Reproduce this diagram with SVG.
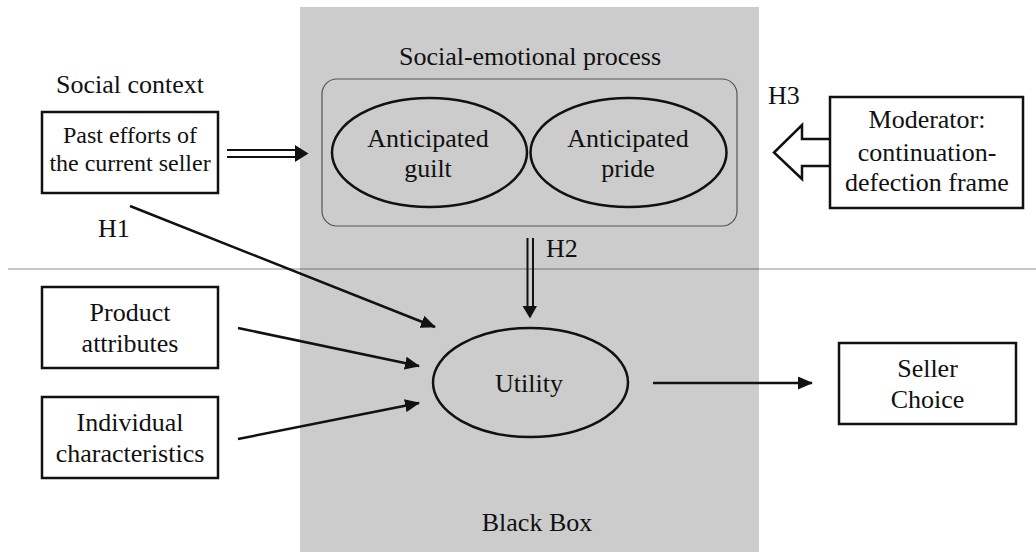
<svg xmlns="http://www.w3.org/2000/svg" width="1036" height="552" viewBox="0 0 1036 552">
<style>
text{font-family:"Liberation Serif","Times New Roman",serif;font-size:26px;fill:#111;}
.c{text-anchor:middle;}
.box{fill:#fff;stroke:#111;stroke-width:2.5;}
.ell{fill:none;stroke:#111;stroke-width:2.5;}
.ln{stroke:#111;stroke-width:2.5;fill:none;}
.dl{stroke:#111;stroke-width:2;fill:none;}
</style>
<defs>
<marker id="ah" markerUnits="userSpaceOnUse" markerWidth="15" markerHeight="13" refX="14" refY="6.5" orient="auto" viewBox="0 0 15 13">
<path d="M0,0 L15,6.5 L0,13 z" fill="#111"/>
</marker>
</defs>
<rect id="blackbox" x="300" y="7" width="459" height="545" fill="#cccccc"/>
<line x1="8" y1="269" x2="1036" y2="269" stroke="#000" stroke-opacity="0.22" stroke-width="2"/>
<text class="c" x="537" y="531">Black Box</text>
<g id="process">
<rect x="322" y="79" width="415" height="147" rx="15" fill="none" stroke="#555" stroke-width="1.2"/>
<text class="c" x="530" y="65">Social-emotional process</text>
</g>
<g id="guilt">
<ellipse class="ell" cx="429.5" cy="152.5" rx="97.5" ry="54.5"/>
<text class="c" x="428" y="147">Anticipated</text>
<text class="c" x="428" y="177">guilt</text>
</g>
<g id="pride">
<ellipse class="ell" cx="628.5" cy="152.5" rx="98" ry="54.5"/>
<text class="c" x="628" y="147">Anticipated</text>
<text class="c" x="628" y="177">pride</text>
</g>
<g id="past">
<text class="c" x="130" y="93">Social context</text>
<rect class="box" x="42" y="112" width="176" height="81"/>
<text class="c" x="130" y="143" style="font-size:24px">Past efforts of</text>
<text class="c" x="130" y="171" style="font-size:24px">the current seller</text>
</g>
<g id="moderator">
<path d="M830,139 L802,139 L802,125 L774,152.5 L802,179 L802,166 L830,166" fill="#fff" stroke="#111" stroke-width="2.5" stroke-linejoin="miter"/>
<rect class="box" x="830" y="97" width="193" height="111"/>
<text class="c" x="927" y="128">Moderator:</text>
<text class="c" x="927" y="161">continuation-</text>
<text class="c" x="927" y="191">defection frame</text>
</g>
<g id="product">
<rect class="box" x="42" y="287" width="176" height="81"/>
<text class="c" x="130" y="321">Product</text>
<text class="c" x="130" y="352">attributes</text>
</g>
<g id="individual">
<rect class="box" x="42" y="397" width="176" height="81"/>
<text class="c" x="130" y="431">Individual</text>
<text class="c" x="130" y="462">characteristics</text>
</g>
<g id="utility">
<ellipse class="ell" cx="530.5" cy="382.5" rx="97.5" ry="54.5"/>
<text class="c" x="529" y="392">Utility</text>
</g>
<g id="seller">
<rect class="box" x="839" y="343" width="177" height="81"/>
<text class="c" x="927.5" y="377">Seller</text>
<text class="c" x="927.5" y="408">Choice</text>
</g>
<g id="connectors">
<line class="dl" x1="227" y1="150" x2="297" y2="150"/>
<line class="dl" x1="227" y1="157" x2="297" y2="157"/>
<path d="M295,145 L308.5,153.5 L295,162 z" fill="#111"/>
<line class="dl" x1="527.5" y1="238" x2="527.5" y2="308"/>
<line class="dl" x1="533" y1="238" x2="533" y2="308"/>
<path d="M522.5,306 L537,306 L530,318.5 z" fill="#111"/>
<line class="ln" x1="130" y1="206" x2="435" y2="327" marker-end="url(#ah)"/>
<line class="ln" x1="238" y1="328" x2="419" y2="366" marker-end="url(#ah)"/>
<line class="ln" x1="238" y1="439" x2="419" y2="403" marker-end="url(#ah)"/>
<line class="ln" x1="653" y1="383" x2="812" y2="383" marker-end="url(#ah)"/>
<text x="98" y="237">H1</text>
<text x="546" y="257">H2</text>
<text x="768" y="104">H3</text>
</g>
</svg>
